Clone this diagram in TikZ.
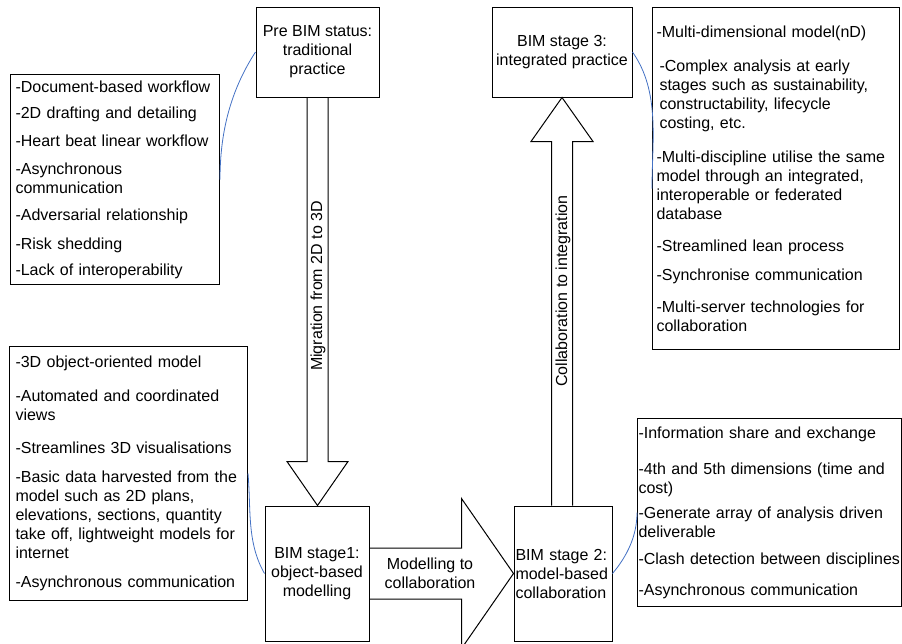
\documentclass[tikz,border=0pt]{standalone}
\usepackage{fontspec}
\setmainfont{Liberation Sans}
\usepackage{tikz}
\usetikzlibrary{calc}
\definecolor{ink}{HTML}{000000}
\definecolor{linkblue}{HTML}{4472C4}
\tikzset{
  stage/.style={draw=ink, line width=0.75pt, align=center, inner sep=1.5pt, font=\fontsize{12}{14.25}\selectfont},
  stageleft/.style={stage, align=left},
  notes/.style={draw=ink, line width=0.75pt, anchor=north west, align=left, inner ysep=2pt, font=\fontsize{12}{14.25}\selectfont},
  blockarrow/.style={draw=ink, line width=0.75pt, line join=miter},
  conn/.style={draw=linkblue, line width=0.6pt},
  lab/.style={inner sep=0pt, align=center, font=\fontsize{12}{14.25}\selectfont},
}

\begin{document}
\begin{tikzpicture}[x=0.75pt,y=0.75pt]
  \useasboundingbox (0,0) rectangle (902,-643);
  % stages
  \node[stage, minimum width=92.25pt, minimum height=67.5pt] (pre) at (317.5,-52) {Pre BIM status:\\traditional\\practice};
  \node[stage, minimum width=105pt, minimum height=67.5pt] (sthree) at (562,-52) {BIM stage 3:\\integrated practice};
  \node[stage, minimum width=78pt, minimum height=101.25pt] (sone) at (317,-573.5) {BIM stage1:\\object-based\\modelling};
  \node[stageleft, text width=71.25pt, inner xsep=1.125pt, minimum height=101.25pt] (stwo) at (563,-573.5) {BIM stage 2:\\model-based\\collaboration};
  % notes
  \node[notes, text width=149.25pt, inner xsep=3.75pt, minimum height=157.5pt] (notepre) at (10,-74) {-Document-based workflow\\[5.25pt]
    -2D drafting and detailing\\[6.75pt]
    -Heart beat linear workflow\\[6.75pt]
    -Asynchronous\\communication\\[6pt]
    -Adversarial relationship\\[7.5pt]
    -Risk shedding\\[5.25pt]
    -Lack of interoperability};
  \node[notes, text width=169.5pt, inner xsep=4.5pt, minimum height=190.5pt] (noteone) at (9,-346) {-3D object-oriented model\\[11.25pt]
    -Automated and coordinated\\views\\[10.5pt]
    -Streamlines 3D visualisations\\[7.5pt]
    -Basic data harvested from the\\model such as 2D plans,\\elevations, sections, quantity\\take off, lightweight models for\\internet\\[7.5pt]
    -Asynchronous communication};
  \node[notes, text width=179.25pt, inner xsep=3pt, minimum height=256.5pt] (notethree) at (652,-7) {-Multi-dimensional model(nD)\\[11.25pt]
    \hspace*{2.25pt}-Complex analysis at early\\\hspace*{2.25pt}stages such as sustainability,\\\hspace*{2.25pt}constructability, lifecycle\\\hspace*{2.25pt}costing, etc.\\[11.25pt]
    -Multi-discipline utilise the same\\model through an integrated,\\interoperable or federated\\database\\[9.75pt]
    -Streamlined lean process\\[7.5pt]
    -Synchronise communication\\[9.75pt]
    -Multi-server technologies for\\collaboration};
  \node[notes, text width=196.5pt, inner xsep=0.75pt, minimum height=141pt] (notetwo) at (637,-418) {-Information share and exchange\\[12.75pt]
    -4th and 5th dimensions (time and\\cost)\\[4.5pt]
    -Generate array of analysis driven\\deliverable\\[6pt]
    -Clash detection between disciplines\\[9pt]
    -Asynchronous communication};
  % block arrows
  \draw[blockarrow] ($(pre.south)+(-10.5,0)$) -- ($(pre.south |- sone.north)+(-10.5,44)$) -- ($(pre.south |- sone.north)+(-30.5,44)$)
    -- (pre.south |- sone.north) -- ($(pre.south |- sone.north)+(30.5,44)$) -- ($(pre.south |- sone.north)+(10.5,44)$) -- ($(pre.south)+(10.5,0)$);
  \draw[blockarrow] ($(sthree.south |- stwo.north)+(-10.5,0)$) -- ($(sthree.south)+(-10.5,-44)$) -- ($(sthree.south)+(-31,-44)$)
    -- (sthree.south) -- ($(sthree.south)+(31,-44)$) -- ($(sthree.south)+(10.5,-44)$) -- ($(sthree.south |- stwo.north)+(10.5,0)$);
  \draw[blockarrow] ($(sone.east)+(0,25.5)$) -- ($(stwo.west)+(-52,25.5)$) -- ($(stwo.west)+(-52,75)$)
    -- (stwo.west) -- ($(stwo.west)+(-52,-75)$) -- ($(stwo.west)+(-52,-25.5)$) -- ($(sone.east)+(0,-25.5)$);
  \node[lab, rotate=90] (labmig) at (318,-286) {Migration from 2D to 3D};
  \node[lab, rotate=90] (labcol) at (563,-291) {Collaboration to integration};
  \node[lab] (labmod) at (430,-573.5) {Modelling to\\collaboration};
  % links to notes
  \draw[conn] (pre.west) to[out=237,in=90,looseness=0.9] (notepre.east);
  \draw[conn] (sthree.east) to[out=-55,in=90,looseness=0.9] ($(notethree.west)+(0,-10)$);
  \draw[conn] (noteone.east) to[out=-85,in=120,looseness=0.9] (sone.west);
  \draw[conn] (stwo.east) to[out=50,in=-90,looseness=0.9] (notetwo.west);
\end{tikzpicture}
\end{document}
